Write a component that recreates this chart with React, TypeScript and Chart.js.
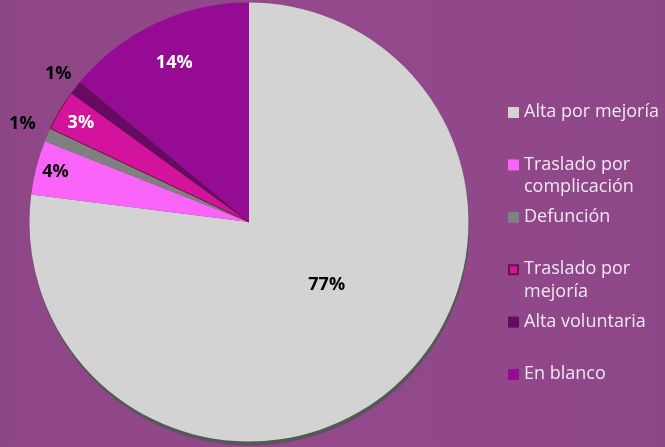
import React, { useEffect, useRef } from "react";
import { Chart, registerables } from "chart.js";
Chart.register(...registerables);

// ---- data ----
const categories = [
  "Alta por mejoría",
  "Traslado por complicación",
  "Defunción",
  "Traslado por mejoría",
  "Alta voluntaria",
  "En blanco",
];
const percentages = [77, 4, 1, 3, 1, 14];

// ---- styles ----
const sliceColors = ["#D3D3D3", "#FA64F8", "#808080", "#D4139C", "#660A62", "#960B93"];
const sliceBorders = ["#D3D3D3", "#FA64F8", "#808080", "#6B1444", "#660A62", "#960B93"];
const sliceBorderWidths = [0, 0, 0, 1, 0, 0];
const labelColors = ["#000000", "#000000", "#000000", "#FFFFFF", "#000000", "#FFFFFF"];
const labelRadius = [0.455, 0.91, 1.125, 0.89, 1.1, 0.8];
const labelAngleShiftDeg = [-9.7, 0, 0, 0, 0, 0];
const FONT = "'Open Sans', 'DejaVu Sans', sans-serif";

const shadowPlugin = {
  id: "pieShadow",
  beforeDatasetsDraw(chart: any) {
    const arc = chart.getDatasetMeta(0).data[0];
    if (!arc) return;
    const { x, y, outerRadius } = arc.getProps(["x", "y", "outerRadius"], true);
    const ctx = chart.ctx;
    ctx.save();
    ctx.fillStyle = "#575757";
    ctx.beginPath();
    ctx.arc(x + 1, y + 4, outerRadius, 0, Math.PI * 2);
    ctx.fill();
    ctx.restore();
  },
};

const labelPlugin = {
  id: "pctLabels",
  afterDatasetsDraw(chart: any) {
    const ctx = chart.ctx;
    const meta = chart.getDatasetMeta(0);
    ctx.save();
    ctx.font = `bold 18px ${FONT}`;
    ctx.textAlign = "center";
    ctx.textBaseline = "middle";
    meta.data.forEach((el: any, i: number) => {
      const { x, y, startAngle, endAngle, outerRadius } = el.getProps(
        ["x", "y", "startAngle", "endAngle", "outerRadius"],
        true
      );
      const mid = (startAngle + endAngle) / 2 + (labelAngleShiftDeg[i] * Math.PI) / 180;
      const r = outerRadius * labelRadius[i];
      ctx.fillStyle = labelColors[i];
      ctx.fillText(`${percentages[i]}%`, x + Math.cos(mid) * r, y + Math.sin(mid) * r);
    });
    ctx.restore();
  },
};

const legendPlugin = {
  id: "sideLegend",
  afterDraw(chart: any) {
    const ctx = chart.ctx;
    const lx = 508;
    const top = 112;
    const slot = 52.4;
    const lineH = 22.5;
    const maxW = 150;
    ctx.save();
    ctx.font = `18px ${FONT}`;
    ctx.textBaseline = "middle";
    ctx.textAlign = "left";
    categories.forEach((label, i) => {
      const y = top + i * slot;
      ctx.fillStyle = sliceColors[i];
      ctx.fillRect(lx, y - 5, 11, 11);
      if (sliceBorderWidths[i] > 0) {
        ctx.strokeStyle = sliceBorders[i];
        ctx.lineWidth = 2;
        ctx.strokeRect(lx + 1, y - 4, 9, 9);
      }
      const words = label.split(" ");
      const lines: string[] = [];
      let cur = "";
      words.forEach((w) => {
        const test = cur ? cur + " " + w : w;
        if (ctx.measureText(test).width > maxW && cur) {
          lines.push(cur);
          cur = w;
        } else cur = test;
      });
      if (cur) lines.push(cur);
      ctx.fillStyle = "#F3E6F2";
      lines.forEach((ln, k) => ctx.fillText(ln, lx + 16, y + k * lineH));
    });
    ctx.restore();
  },
};

export default function App() {
  const ref = useRef<HTMLCanvasElement | null>(null);
  useEffect(() => {
    document.body.style.margin = "0";
    if (!ref.current) return;
    const chart = new Chart(ref.current, {
      type: "pie",
      data: {
        labels: categories,
        datasets: [
          {
            data: percentages,
            backgroundColor: sliceColors,
            borderColor: sliceBorders,
            borderWidth: sliceBorderWidths,
            hoverOffset: 0,
            offset: 0,
          },
        ],
      },
      options: {
        animation: false,
        responsive: true,
        maintainAspectRatio: false,
        events: [],
        layout: { padding: { left: 29, right: 196, top: 2, bottom: 5 } },
        plugins: {
          legend: { display: false },
          tooltip: { enabled: false },
          title: { display: false },
        },
      },
      plugins: [shadowPlugin, labelPlugin, legendPlugin],
    });
    return () => chart.destroy();
  }, []);
  return (
    <div
      style={{
        width: 665,
        height: 447,
        position: "relative",
        background: `linear-gradient(90deg, #8D4686 0%, #93498C 50%, #8D4787 100%)`,
      }}
    >
      <canvas ref={ref} />
    </div>
  );
}
